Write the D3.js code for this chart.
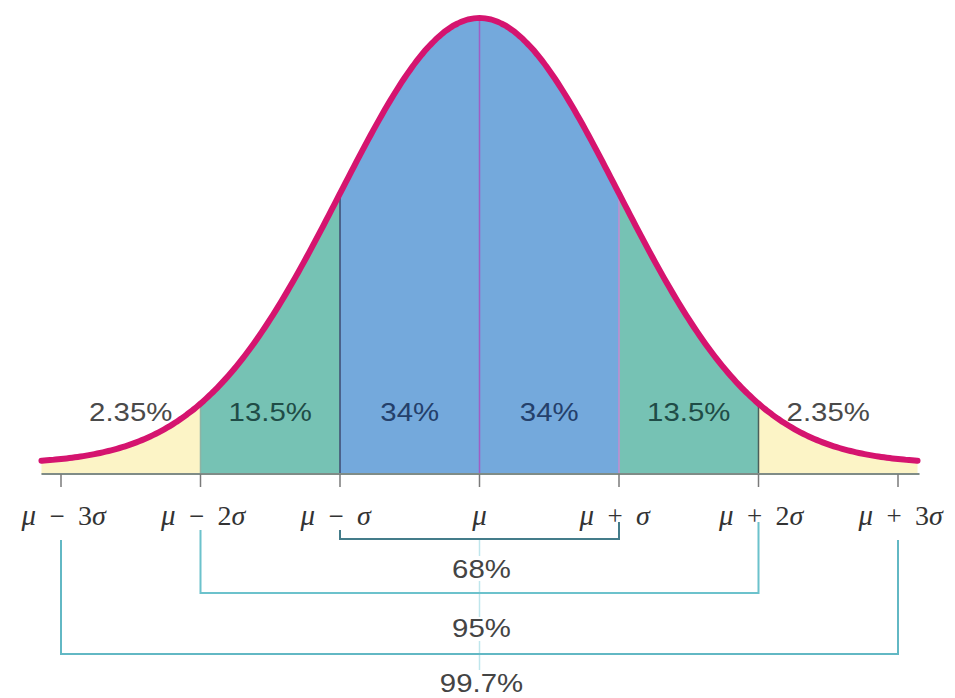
<!DOCTYPE html>
<html lang="en">
<head>
    <meta charset="UTF-8">
    <title>Normal distribution</title>
    <script src="https://cdn.jsdelivr.net/npm/d3@7"></script>
    <style>
        body{ margin:0; background:#fff; }
        svg{ position:absolute; left:0px; top:0px; }
    </style>
</head>
<body>
    <svg id="chart" width="955" height="698"></svg>
    <script>
        // sigma marks along the axis
        var sigmaMarks = [-3, -2, -1, 0, 1, 2, 3]
        var markOps = ["\u2212", "\u2212", "\u2212", "", "+", "+", "+"]
        var markCoef = ["3", "2", "", "", "", "2", "3"]

        // shaded bands between marks and their share of the area
        var bandEdges = [-3.14, -2, -1, 0, 1, 2, 3.14]
        var bandLabels = ["2.35%", "13.5%", "34%", "34%", "13.5%", "2.35%"]

        // brackets under the axis
        var rangeK = [1, 2, 3]
        var rangeLabels = ["68%", "95%", "99.7%"]

        var bandFill = ["#fcf4c6", "#76c2b4", "#74a9dc", "#74a9dc", "#76c2b4", "#fcf4c6"]
        var bandText = ["#4a4a4a", "#1f4c47", "#24406b", "#24406b", "#1f4c47", "#4a4a4a"]
        var dividerColor = {"-2": "#8fb3a4", "-1": "#3e4a70", "0": "#a05ec4", "1": "#c58bd2", "2": "#4b5e5b"}
        var bracketColor = ["#447c8a", "#6cc2cc", "#62b8c4"]

        var svg = d3.select('#chart')
        var x = d3.scaleLinear().domain([-3, 3]).range([61, 898])
        var y = d3.scaleLinear().domain([0, 1]).range([464, 18])
        var base = 474

        // normal curve shape (relative height)
        var dens = function(z){ return Math.exp(-z * z / 2) }
        var sample = function(a, b){
            var pts = d3.range(a, b, 0.02)
            pts.push(b)
            return pts
        }

        var area = d3.area()
                .x(function(z){ return x(z) })
                .y0(base)
                .y1(function(z){ return y(dens(z)) })

        bandLabels.forEach(function(lbl, i){
            svg.append('path')
                .attr('d', area(sample(bandEdges[i], bandEdges[i + 1])))
                .attr('fill', bandFill[i])
        })

        // dividers inside the filled area
        sigmaMarks.slice(1, -1).forEach(function(z){
            svg.append('line')
                .attr('x1', x(z)).attr('x2', x(z))
                .attr('y1', base).attr('y2', y(dens(z)))
                .attr('stroke', dividerColor[z])
                .attr('stroke-width', 1.5)
        })

        // baseline and ticks
        svg.append('line')
            .attr('x1', x(bandEdges[0])).attr('x2', x(bandEdges[6]) + 2)
            .attr('y1', base).attr('y2', base)
            .attr('stroke', '#7f8c87').attr('stroke-width', 2)

        svg.selectAll('.tick').data(sigmaMarks).enter().append('line')
            .attr('x1', function(z){ return x(z) }).attr('x2', function(z){ return x(z) })
            .attr('y1', base).attr('y2', base + 13)
            .attr('stroke', '#7a7a7a').attr('stroke-width', 1.5)

        // curve
        var line = d3.line()
                .x(function(z){ return x(z) })
                .y(function(z){ return y(dens(z)) })
                .curve(d3.curveBasis)
        svg.append('path')
            .attr('d', line(sample(bandEdges[0], bandEdges[6])))
            .attr('fill', 'none')
            .attr('stroke', '#d5146f')
            .attr('stroke-width', 6)
            .attr('stroke-linecap', 'round')

        // band labels
        bandLabels.forEach(function(lbl, i){
            var cx = x((Math.max(bandEdges[i], -3) + Math.min(bandEdges[i + 1], 3)) / 2)
            svg.append('text')
                .attr('transform', 'translate(' + cx + ',421) scale(1.13,1)')
                .attr('text-anchor', 'middle')
                .style('font-family', '"Liberation Sans", Arial, sans-serif')
                .style('font-size', '26px')
                .attr('fill', bandText[i])
                .text(lbl)
        })

        // axis labels: mu, operator, k sigma
        var serif = '"Liberation Serif", "Times New Roman", serif'
        sigmaMarks.forEach(function(z, i){
            var tx = x(z)
            if (z === 0){
                svg.append('text').attr('x', tx).attr('y', 525)
                    .attr('text-anchor', 'middle')
                    .style('font-family', serif).style('font-size', '29px').style('font-style', 'italic')
                    .attr('fill', '#333').text('\u03bc')
                return
            }
            var g = svg.append('g').attr('transform', 'translate(' + tx + ',525)')
            g.append('text').attr('x', -25).attr('text-anchor', 'end')
                .style('font-family', serif).style('font-size', '29px').style('font-style', 'italic')
                .attr('fill', '#333').text('\u03bc')
            g.append('text').attr('x', -4).attr('text-anchor', 'middle')
                .style('font-family', serif).style('font-size', '27px')
                .attr('fill', '#333').text(markOps[i])
            var t = g.append('text').attr('x', 17).attr('text-anchor', 'start')
                .style('font-family', serif).style('font-size', '28px')
                .attr('fill', '#333')
            if (markCoef[i]) t.append('tspan').text(markCoef[i])
            t.append('tspan').style('font-style', 'italic').text('\u03c3')
        })

        // center guide line behind the range labels
        var guide = [[540, 556], [581, 617], [641, 670]]
        guide.forEach(function(s){
            svg.append('line')
                .attr('x1', x(0)).attr('x2', x(0))
                .attr('y1', s[0]).attr('y2', s[1])
                .attr('stroke', '#bfe6ec').attr('stroke-width', 1.5)
        })

        // brackets
        var bracketY = d3.scaleOrdinal().domain(rangeK).range([539, 593, 654])
        var bracketTop = [530, 530, 540]
        var bracketPath = d3.line()
        rangeK.forEach(function(k, i){
            var by = bracketY(k)
            svg.append('path')
                .attr('d', bracketPath([[x(-k), bracketTop[i]], [x(-k), by], [x(k), by], [x(k), k < 3 ? 522 : bracketTop[i]]]))
                .attr('fill', 'none')
                .attr('stroke', bracketColor[i])
                .attr('stroke-width', 2)
        })

        var labelY = [578, 637, 692]
        rangeLabels.forEach(function(lbl, i){
            svg.append('text')
                .attr('transform', 'translate(' + (x(0) + 2) + ',' + labelY[i] + ') scale(1.13,1)')
                .attr('text-anchor', 'middle')
                .style('font-family', '"Liberation Sans", Arial, sans-serif')
                .style('font-size', '26px')
                .attr('fill', '#444')
                .text(lbl)
        })
    </script>
</body>
</html>
